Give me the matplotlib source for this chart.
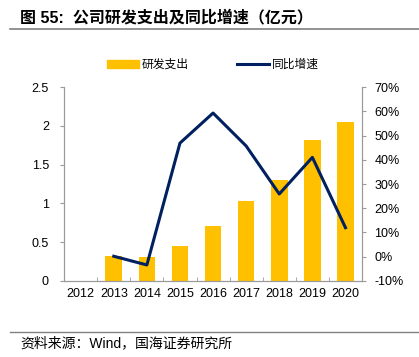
import numpy as np
import matplotlib.pyplot as plt
from matplotlib.lines import Line2D

plt.rcParams['font.family'] = ['Liberation Sans', 'Noto Sans CJK SC', 'DejaVu Sans']

years = ["2012", "2013", "2014", "2015", "2016", "2017", "2018", "2019", "2020"]
rd_spend = [0, 0.32, 0.31, 0.45, 0.71, 1.03, 1.30, 1.82, 2.05]
growth = [None, 0.2, -3.4, 46.9, 59.3, 45.7, 25.9, 41.0, 12.0]

bar_color = "#FFC000"
line_color = "#002060"
axis_color = "#9A9A9A"

fig = plt.figure(figsize=(4.19, 3.57), dpi=100)
ax = fig.add_axes([0.153, 0.213, 0.711, 0.543])
ax2 = ax.twinx()

x = np.arange(len(years))
ax.bar(x, rd_spend, width=0.5, color=bar_color, zorder=2)
gx = [i for i, g in enumerate(growth) if g is not None]
gy = [g for g in growth if g is not None]
ax2.plot(gx, gy, color=line_color, linewidth=2.2, zorder=3)

ax.set_xlim(-0.5, len(years) - 0.5)
ax.set_ylim(0, 2.5)
ax.set_yticks([0, 0.5, 1, 1.5, 2, 2.5])
ax.set_yticklabels(["0", "0.5", "1", "1.5", "2", "2.5"])
ax2.set_ylim(-10, 70)
ax2.set_yticks(range(-10, 71, 10))
ax2.set_yticklabels([f"{v}%" for v in range(-10, 71, 10)])

ax.set_xticks(x)
ax.set_xticklabels(years)
ax.set_xticks(np.arange(-0.5, len(years), 1), minor=True)
ax.tick_params(axis="x", which="major", length=0, pad=5, labelsize=9)
ax.tick_params(axis="x", which="minor", length=3, color=axis_color, direction="in")

for a in (ax, ax2):
    a.spines["top"].set_visible(False)
    for s in ("left", "right", "bottom"):
        a.spines[s].set_color(axis_color)
        a.spines[s].set_linewidth(0.8)
ax.tick_params(axis="y", length=3, color=axis_color, labelsize=9, pad=8)
ax2.tick_params(axis="y", length=3, color=axis_color, labelsize=9, pad=6)

handles = [
    plt.Rectangle((0, 0), 1, 1, color=bar_color),
    Line2D([0], [0], color=line_color, linewidth=2.2),
]
fig.legend(handles, ["研发支出", "同比增速"], loc="center", ncol=2,
           bbox_to_anchor=(0.508, 0.818), frameon=False, fontsize=8.5,
           handlelength=2.7, handleheight=0.7, columnspacing=4.1,
           handletextpad=0.25, borderpad=0, borderaxespad=0)

fig.text(0.048, 0.952, "图 55:  公司研发支出及同比增速（亿元）", fontsize=11.5,
         fontweight="bold", va="center", ha="left")
fig.add_artist(Line2D([0.024, 1.0], [0.918, 0.918], color="#808080", linewidth=1.2))
fig.add_artist(Line2D([0.024, 1.0], [0.07, 0.07], color="#808080", linewidth=1.0))
fig.text(0.048, 0.039, "资料来源：Wind，国海证券研究所", fontsize=10, va="center", ha="left")

fig.savefig("out.png", dpi=100)
